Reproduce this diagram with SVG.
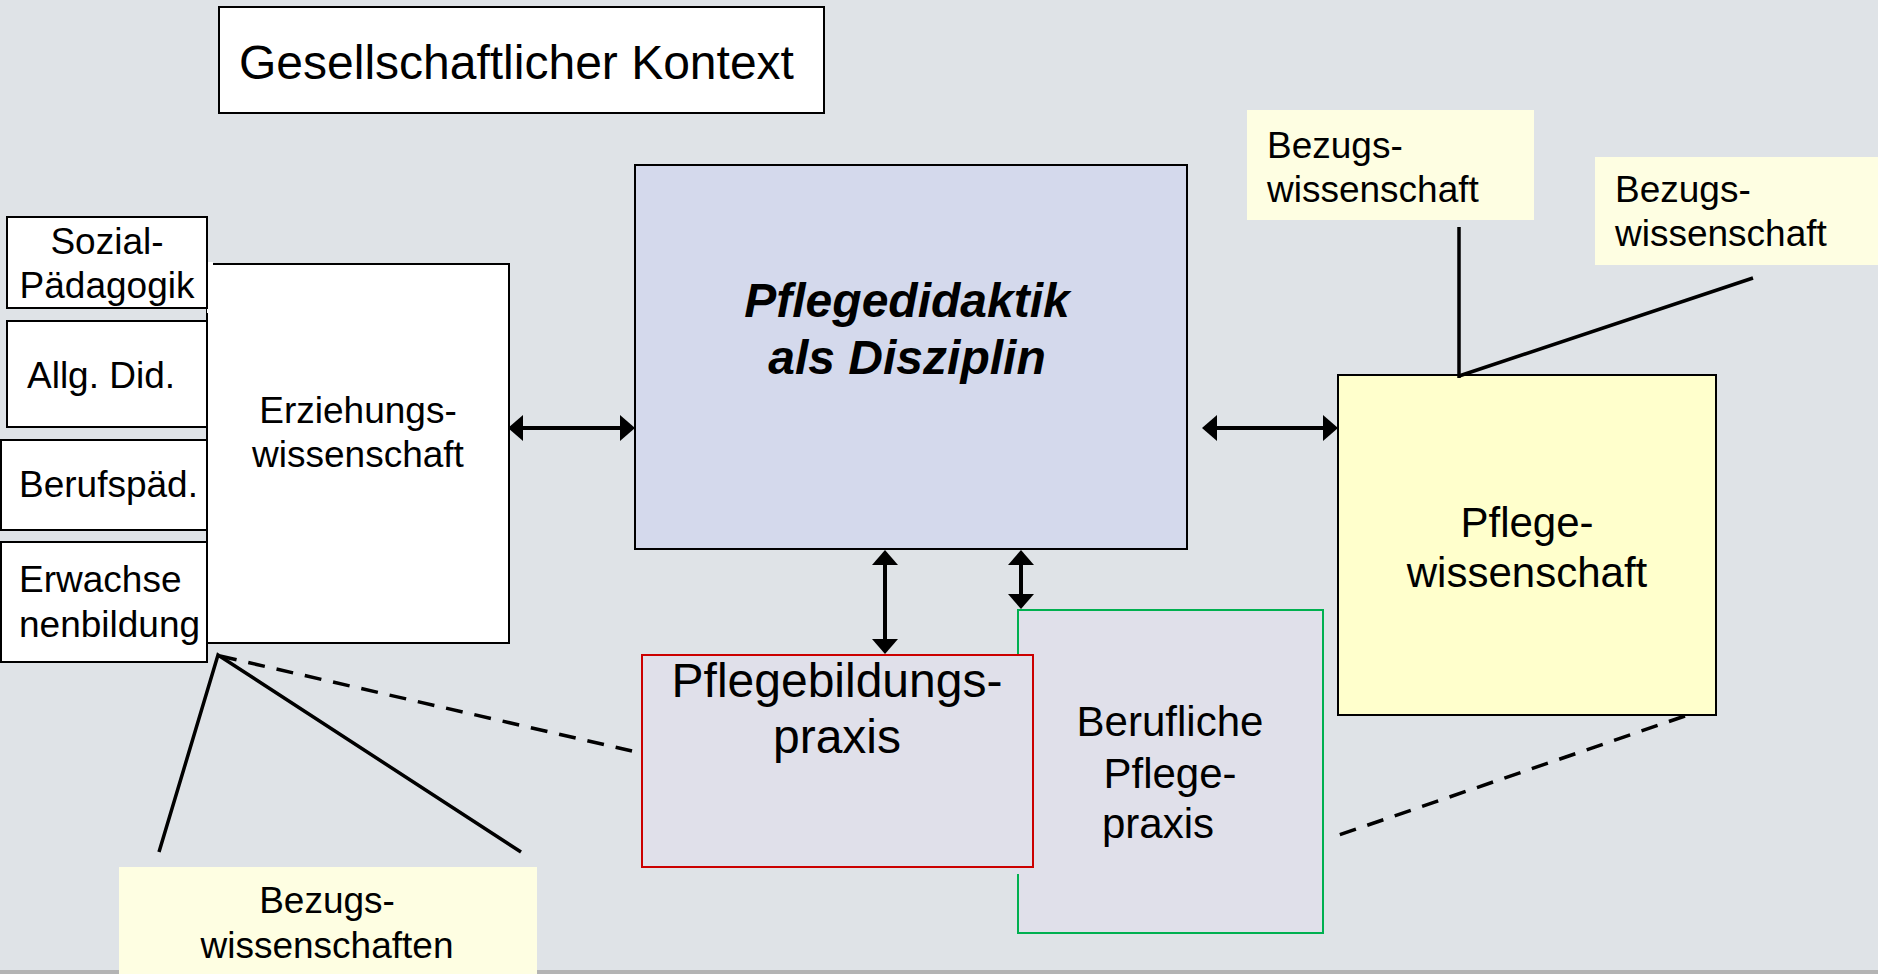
<svg xmlns="http://www.w3.org/2000/svg" width="1878" height="974" viewBox="0 0 1878 974">
<defs>
<style>
text{font-family:"Liberation Sans",Arial,sans-serif;fill:#000}
.t36{font-size:37px}
.t42{font-size:42px}
.t48{font-size:48px}
.mid{text-anchor:middle}
.box{stroke:#000;stroke-width:2}
.white{fill:#fff}
.bez{fill:#fefee2}
.ln{stroke:#000;stroke-width:3.5;fill:none}
.dash{stroke:#000;stroke-width:3.5;fill:none;stroke-dasharray:17 12}
.arr{stroke:#000;stroke-width:4;fill:none;marker-start:url(#ah);marker-end:url(#ah)}
</style>
<marker id="ah" viewBox="0 0 15 26" refX="4" refY="13" markerWidth="15" markerHeight="26" markerUnits="userSpaceOnUse" orient="auto-start-reverse">
<path d="M0,0 L15,13 L0,26 Z" fill="#000"/>
</marker>
</defs>
<rect x="0" y="0" width="1878" height="974" fill="#dfe3e7"/>
<rect x="0" y="970" width="1878" height="4" fill="#b4b4b4"/>

<g id="gesellschaft">
<rect class="box white" x="219" y="7" width="605" height="106"/>
<text class="t48" x="239" y="79">Gesellschaftlicher Kontext</text>
</g>

<g id="erziehung">
<rect class="box white" x="207" y="264" width="302" height="379"/>
<text class="t36 mid" x="358" y="423">Erziehungs-</text>
<text class="t36 mid" x="358" y="467">wissenschaft</text>
</g>

<g id="sozial">
<rect x="207" y="262" width="6" height="51" fill="#fff"/>
<rect class="box white" x="7" y="217" width="200" height="91"/>
<text class="t36 mid" x="107" y="254">Sozial-</text>
<text class="t36 mid" x="107" y="298">Pädagogik</text>
</g>

<g id="allgdid">
<rect class="box white" x="7" y="321" width="200" height="106"/>
<text class="t36" x="27" y="388">Allg. Did.</text>
</g>

<g id="berufspaed">
<rect class="box white" x="1" y="440" width="206" height="90"/>
<text class="t36" x="19" y="497">Berufspäd.</text>
</g>

<g id="erwachsenenbildung">
<rect class="box white" x="1" y="542" width="206" height="120"/>
<text class="t36" x="19" y="592">Erwachse</text>
<text class="t36" x="19" y="637">nenbildung</text>
</g>

<g id="pflegedidaktik">
<rect class="box" x="635" y="165" width="552" height="384" fill="#d4d9ec"/>
<text class="t48 mid" x="907" y="317" font-weight="bold" font-style="italic">Pflegedidaktik</text>
<text class="t48 mid" x="907" y="374" font-weight="bold" font-style="italic">als Disziplin</text>
</g>

<g id="pflegewissenschaft">
<rect class="box" x="1338" y="375" width="378" height="340" fill="#ffffcc"/>
<text class="t42 mid" x="1527" y="537">Pflege-</text>
<text class="t42 mid" x="1527" y="587">wissenschaft</text>
</g>

<g id="bezug1">
<rect class="bez" x="1247" y="110" width="287" height="110"/>
<text class="t36" x="1267" y="158">Bezugs-</text>
<text class="t36" x="1267" y="202">wissenschaft</text>
</g>

<g id="bezug2">
<rect class="bez" x="1595" y="157" width="283" height="108"/>
<text class="t36" x="1615" y="202">Bezugs-</text>
<text class="t36" x="1615" y="246">wissenschaft</text>
</g>

<g id="berufliche">
<rect x="1018" y="610" width="305" height="323" fill="#e0e0ea" stroke="#00b050" stroke-width="2"/>
<text class="t42 mid" x="1170" y="736">Berufliche</text>
<text class="t42 mid" x="1170" y="788">Pflege-</text>
<text class="t42 mid" x="1158" y="838">praxis</text>
</g>

<g id="pflegebildung">
<rect x="1012" y="862" width="12" height="12" fill="#e0e0ea"/>
<rect x="642" y="655" width="391" height="212" fill="#e0e0ea" stroke="#cc0000" stroke-width="2"/>
<text class="t48 mid" x="837" y="697">Pflegebildungs-</text>
<text class="t48 mid" x="837" y="753">praxis</text>
</g>

<g id="bezug3">
<rect class="bez" x="119" y="867" width="418" height="107"/>
<text class="t36 mid" x="327" y="913">Bezugs-</text>
<text class="t36 mid" x="327" y="958">wissenschaften</text>
</g>

<g id="connectors">
<line class="arr" x1="519" y1="428" x2="624" y2="428"/>
<line class="arr" x1="1213" y1="428" x2="1327" y2="428"/>
<line class="arr" x1="885" y1="561" x2="885" y2="643"/>
<line class="arr" x1="1021" y1="561" x2="1021" y2="598"/>
<line class="ln" x1="1459" y1="227" x2="1459" y2="378"/>
<line class="ln" x1="1459" y1="376" x2="1753" y2="278"/>
<polyline class="ln" points="159,852 218,655 521,852"/>
<line class="dash" x1="220" y1="656" x2="632" y2="751"/>
<line class="dash" x1="1685" y1="716" x2="1339" y2="835"/>
</g>
</svg>
